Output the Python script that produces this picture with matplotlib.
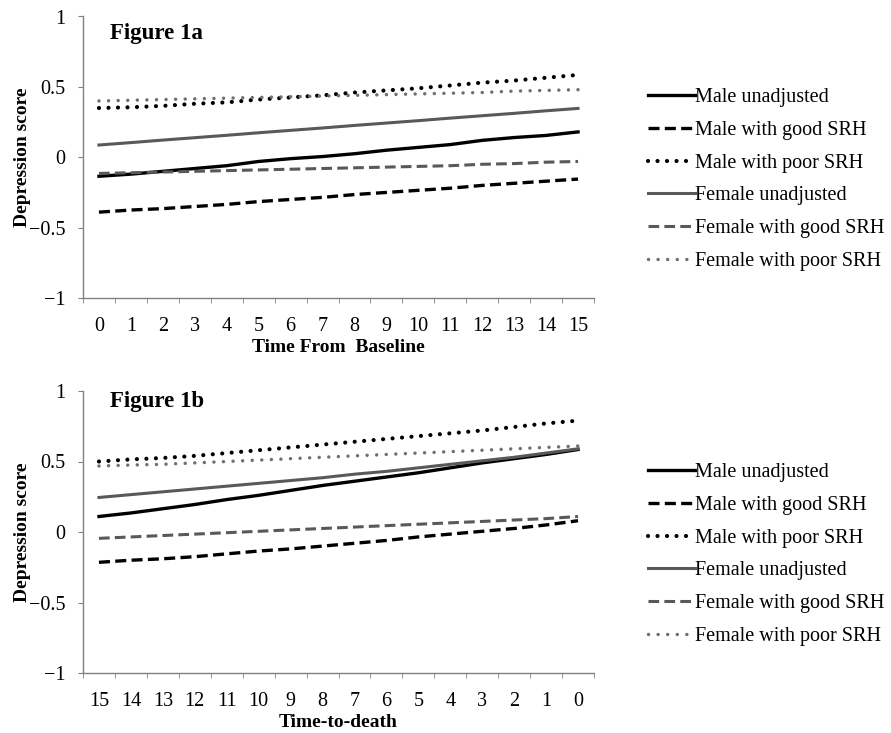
import matplotlib
matplotlib.use("Agg")
import matplotlib.pyplot as plt
from matplotlib.lines import Line2D

plt.rcParams['font.family'] = ['Liberation Serif', 'DejaVu Serif']

# Figure 1a: years from baseline 0..15
years_a = list(range(16))
xlabels_a = [str(v) for v in range(16)]
male_unadj_a = [-0.135, -0.12, -0.10, -0.08, -0.06, -0.03, -0.01, 0.005, 0.025, 0.05, 0.07, 0.09, 0.12, 0.14, 0.155, 0.18]
male_good_a = [-0.39, -0.375, -0.365, -0.35, -0.335, -0.315, -0.30, -0.285, -0.265, -0.25, -0.235, -0.22, -0.20, -0.185, -0.17, -0.155]
male_poor_a = [0.35, 0.355, 0.365, 0.38, 0.39, 0.41, 0.425, 0.44, 0.46, 0.475, 0.49, 0.51, 0.53, 0.545, 0.565, 0.585]
fem_unadj_a = [0.087, 0.104, 0.122, 0.139, 0.156, 0.174, 0.191, 0.208, 0.226, 0.243, 0.26, 0.278, 0.295, 0.312, 0.33, 0.347]
fem_good_a = [-0.115, -0.11, -0.105, -0.10, -0.095, -0.09, -0.085, -0.08, -0.075, -0.07, -0.065, -0.06, -0.05, -0.045, -0.035, -0.03]
fem_poor_a = [0.40, 0.405, 0.41, 0.415, 0.42, 0.425, 0.43, 0.435, 0.44, 0.445, 0.45, 0.455, 0.46, 0.47, 0.475, 0.48]

# Figure 1b: time-to-death 15..0 (left to right)
years_b = list(range(16))
xlabels_b = [str(v) for v in range(15, -1, -1)]
male_unadj_b = [0.11, 0.135, 0.165, 0.195, 0.23, 0.26, 0.295, 0.33, 0.36, 0.39, 0.42, 0.455, 0.49, 0.52, 0.55, 0.585]
male_good_b = [-0.215, -0.20, -0.19, -0.175, -0.155, -0.135, -0.12, -0.10, -0.08, -0.06, -0.035, -0.015, 0.005, 0.025, 0.05, 0.08]
male_poor_b = [0.50, 0.515, 0.525, 0.54, 0.56, 0.58, 0.60, 0.62, 0.64, 0.66, 0.68, 0.70, 0.72, 0.745, 0.77, 0.79]
fem_unadj_b = [0.245, 0.265, 0.285, 0.305, 0.325, 0.345, 0.365, 0.385, 0.41, 0.43, 0.455, 0.48, 0.505, 0.53, 0.56, 0.59]
fem_good_b = [-0.045, -0.035, -0.025, -0.015, -0.005, 0.005, 0.015, 0.025, 0.035, 0.045, 0.055, 0.065, 0.075, 0.085, 0.095, 0.11]
fem_poor_b = [0.468, 0.475, 0.48, 0.49, 0.50, 0.51, 0.52, 0.53, 0.54, 0.55, 0.56, 0.57, 0.58, 0.59, 0.60, 0.61]

labels = ["Male unadjusted", "Male with good SRH", "Male with poor SRH",
          "Female unadjusted", "Female with good SRH", "Female with poor SRH"]

MALE = "#000000"
FEMALE = "#595959"
styles = [
    dict(color=MALE, lw=2.4, ls="-"),
    dict(color=MALE, lw=2.4, ls=(0, (3.3, 1.6))),
    dict(color=MALE, lw=3.0, ls=(0, (0.01, 2.27)), dash_capstyle="round"),
    dict(color=FEMALE, lw=2.2, ls="-"),
    dict(color=FEMALE, lw=2.2, ls=(0, (3.5, 1.7))),
    dict(color="#707070", lw=2.5, ls=(0, (0.01, 2.75)), dash_capstyle="round"),
]

FS = 14.5


def draw_panel(ax, x, series, xlabels, title, xlabel, title_y):
    for y, st in zip(series, styles):
        ax.plot(x, y, **st)
    ax.set_xlim(-0.5, 15.5)
    ax.set_ylim(-1, 1)
    ax.set_yticks([-1, -0.5, 0, 0.5, 1])
    ax.set_yticklabels(["\u22121", "\u22120.5", "0", "0.5", "1"], fontsize=FS)
    ax.set_xticks(x)
    ax.set_xticklabels(xlabels, fontsize=FS)
    ax.set_xticks([v - 0.5 for v in range(17)], minor=True)
    ax.tick_params(axis="x", which="major", length=0, pad=14)
    ax.tick_params(axis="x", which="minor", length=3.6, color="#808080", direction="out")
    ax.tick_params(axis="y", length=3.6, color="#808080", pad=9)
    for s in ["top", "right"]:
        ax.spines[s].set_visible(False)
    for s in ["left", "bottom"]:
        ax.spines[s].set_color("#808080")
        ax.spines[s].set_linewidth(1.0)
    ax.set_ylabel("Depression score", fontsize=14, fontweight="bold", va="center")
    ax.yaxis.set_label_coords(-0.119, 0.5)
    ax.set_xlabel(xlabel, fontsize=14, fontweight="bold", va="center")
    ax.xaxis.set_label_coords(0.5, -0.175)
    ax.text(0.053, title_y, title, transform=ax.transAxes, fontsize=16.5,
            fontweight="bold", va="center", ha="left")


fig = plt.figure(figsize=(8.91, 7.33), dpi=100)
ax_a = fig.add_axes([83 / 891, 1 - 298 / 733, 511 / 891, 281.5 / 733])
ax_b = fig.add_axes([83 / 891, 1 - 673 / 733, 511 / 891, 282 / 733])

draw_panel(ax_a, years_a,
           [male_unadj_a, male_good_a, male_poor_a, fem_unadj_a, fem_good_a, fem_poor_a],
           xlabels_a, "Figure 1a", "Time From  Baseline", 0.941)
draw_panel(ax_b, years_b,
           [male_unadj_b, male_good_b, male_poor_b, fem_unadj_b, fem_good_b, fem_poor_b],
           xlabels_b, "Figure 1b", "Time-to-death", 0.961)

handles = [Line2D([0], [0], **st) for st in styles]
for top in [88 / 733, 463 / 733]:
    fig.legend(handles, labels, loc="upper left", bbox_to_anchor=(648 / 891, 1 - top),
               frameon=False, fontsize=FS, handlelength=2.33, handletextpad=0.0,
               labelspacing=0.68, borderpad=0, borderaxespad=0)

fig.savefig("out.png", dpi=100)
